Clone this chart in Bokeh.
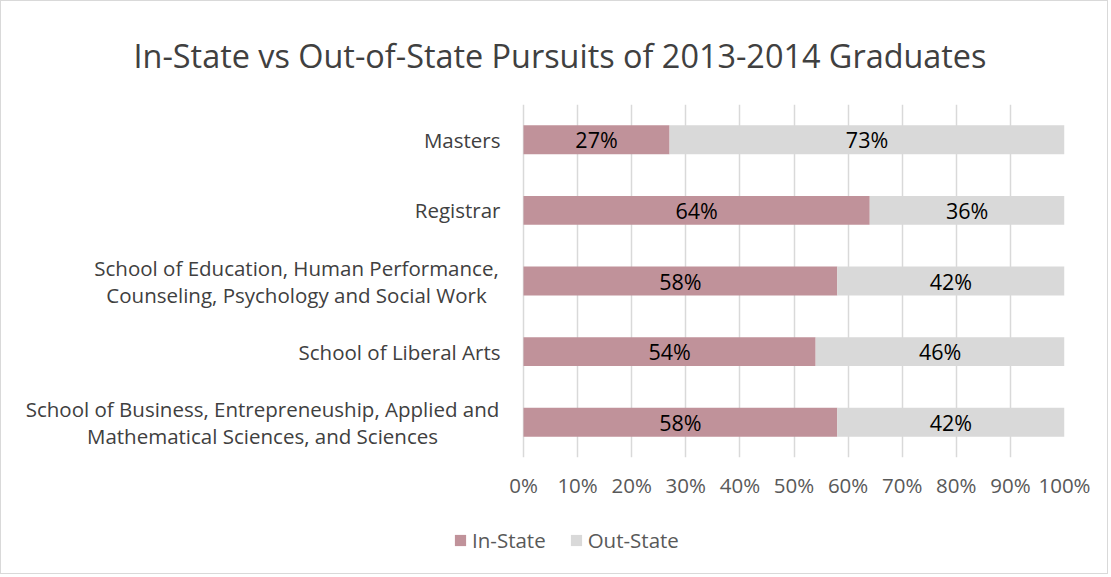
from bokeh.plotting import figure
from bokeh.models import (Range1d, ColumnDataSource, Legend, LegendItem,
                          NumeralTickFormatter, FixedTicker)
from bokeh.layouts import column
from bokeh.core.properties import value
from bokeh.embed import file_html
from bokeh.resources import INLINE

# ---- data (bottom to top) ----
categories = [
    ["School of Business, Entrepreneuship, Applied and", "Mathematical Sciences, and Sciences"],
    ["School of Liberal Arts"],
    ["School of Education, Human Performance,", "Counseling, Psychology and Social Work"],
    ["Registrar"],
    ["Masters"],
]
in_state = [58, 54, 58, 64, 27]
out_state = [42, 46, 42, 36, 73]
tick_values = [0, 10, 20, 30, 40, 50, 60, 70, 80, 90, 100]
series_names = ["In-State", "Out-State"]
colors = ["#C0929A", "#D9D9D9"]
title_text = "In-State vs Out-of-State Pursuits of 2013-2014 Graduates"

FONT = "Open Sans"
W, H_MAIN, H_LEG = 1106, 510, 62

# layout (pixels)
FRAME_L, ZERO_X, FRAME_R = 15, 522, 1063
FRAME_T, FRAME_B = 103, 456
px_per_unit_x = FRAME_R - ZERO_X
x_start = -(ZERO_X - FRAME_L) / px_per_unit_x
px_per_unit_y = (FRAME_B - FRAME_T) / len(categories)

p = figure(width=W, height=H_MAIN, output_backend="svg", toolbar_location=None,
           x_range=Range1d(x_start, 1), y_range=Range1d(-0.5, len(categories) - 0.5),
           min_border_left=FRAME_L, min_border_right=W - FRAME_R, min_border_top=FRAME_T,
           min_border_bottom=H_MAIN - FRAME_B)
p.outline_line_color = None
p.border_fill_color = "white"
p.background_fill_color = "white"

ys = list(range(len(categories)))
ins = [v / 100 for v in in_state]
outs = [v / 100 for v in out_state]
src = ColumnDataSource(dict(
    y=ys, ins=ins, outs=outs, total=[a + b for a, b in zip(ins, outs)],
    in_mid=[a / 2 for a in ins], out_mid=[a + b / 2 for a, b in zip(ins, outs)],
    in_lab=[f"{v}%" for v in in_state], out_lab=[f"{v}%" for v in out_state],
))

p.hbar(y="y", left=0, right="ins", height=0.41, source=src,
       fill_color=colors[0], line_color=None)
p.hbar(y="y", left="ins", right="total", height=0.41, source=src,
       fill_color=colors[1], line_color=None)

for xcol, tcol in (("in_mid", "in_lab"), ("out_mid", "out_lab")):
    p.text(x=xcol, y="y", text=tcol, source=src, text_align="center",
           text_baseline="middle", text_font=value(FONT), text_font_size="21.5px",
           text_color="black")

# category labels, left of the 0% line
lab = dict(x=[], y=[], text=[], xo=[], align=[])
for i, lines in enumerate(categories):
    if len(lines) == 1:
        lab["x"].append(0); lab["y"].append(i); lab["text"].append(lines[0])
        lab["xo"].append(-23); lab["align"].append("right")
    else:
        xo = -227 if i == 2 else -261
        for j, line in enumerate(lines):
            dy = (13.5 if j == 0 else -13.5) / px_per_unit_y
            lab["x"].append(0); lab["y"].append(i + dy); lab["text"].append(line)
            lab["xo"].append(xo); lab["align"].append("center")
p.text(x="x", y="y", text="text", x_offset="xo", text_align="align",
       source=ColumnDataSource(lab), text_baseline="middle", text_font=value(FONT),
       text_font_size="20.5px", text_color="#404040")

# axes
p.yaxis.visible = False
p.ygrid.grid_line_color = None
p.xaxis.ticker = FixedTicker(ticks=[t / 100 for t in tick_values])
p.xaxis.formatter = NumeralTickFormatter(format="0%")
p.xaxis.axis_line_color = None
p.xaxis.major_tick_line_color = None
p.xaxis.minor_tick_line_color = None
p.xaxis.major_label_standoff = 7
p.xaxis.major_label_text_font = FONT
p.xaxis.major_label_text_font_size = "20.5px"
p.xaxis.major_label_text_color = "#595959"
p.xgrid.ticker = FixedTicker(ticks=[t / 100 for t in tick_values])
p.xgrid.grid_line_color = "#D9D9D9"
p.xgrid.grid_line_width = 1.5

# title
p.title.text = title_text
p.title.text_font = FONT
p.title.text_font_size = "32.4px"
p.title.text_font_style = "normal"
p.title.text_color = "#404040"
p.title.align = "left"
p.title.offset = 117
p.title.standoff = 55

# legend strip (separate small figure below the chart)
pl = figure(width=W, height=H_LEG, output_backend="svg", toolbar_location=None,
            x_range=Range1d(0, 1), y_range=Range1d(0, 1),
            min_border_left=0, min_border_right=0, min_border_top=0, min_border_bottom=0)
pl.outline_line_color = None
pl.axis.visible = False
pl.grid.visible = False
# one swatch bar per series, placed outside the visible range (legend swatches only)
swatch = ColumnDataSource(dict(y=[-10], l=[0], r=[1]))
l_in = pl.hbar(y="y", left="l", right="r", height=0.5, source=swatch,
               fill_color=colors[0], line_color=None)
l_out = pl.hbar(y="y", left="l", right="r", height=0.5, source=swatch,
                fill_color=colors[1], line_color=None)
legend = Legend(items=[LegendItem(label=series_names[0], renderers=[l_in]),
                       LegendItem(label=series_names[1], renderers=[l_out])],
                orientation="horizontal", location=(437, 19),
                glyph_width=14, glyph_height=14, label_standoff=5, spacing=23,
                label_text_font=FONT, label_text_font_size="20.5px",
                label_text_color="#595959", border_line_color=None,
                background_fill_alpha=0, padding=0, margin=0)
pl.add_layout(legend)

layout = column(p, pl, spacing=0)
layout.styles = {"border": "1px solid #D9D9D9", "background-color": "white"}

open("out.html", "w").write(file_html(layout, INLINE))
